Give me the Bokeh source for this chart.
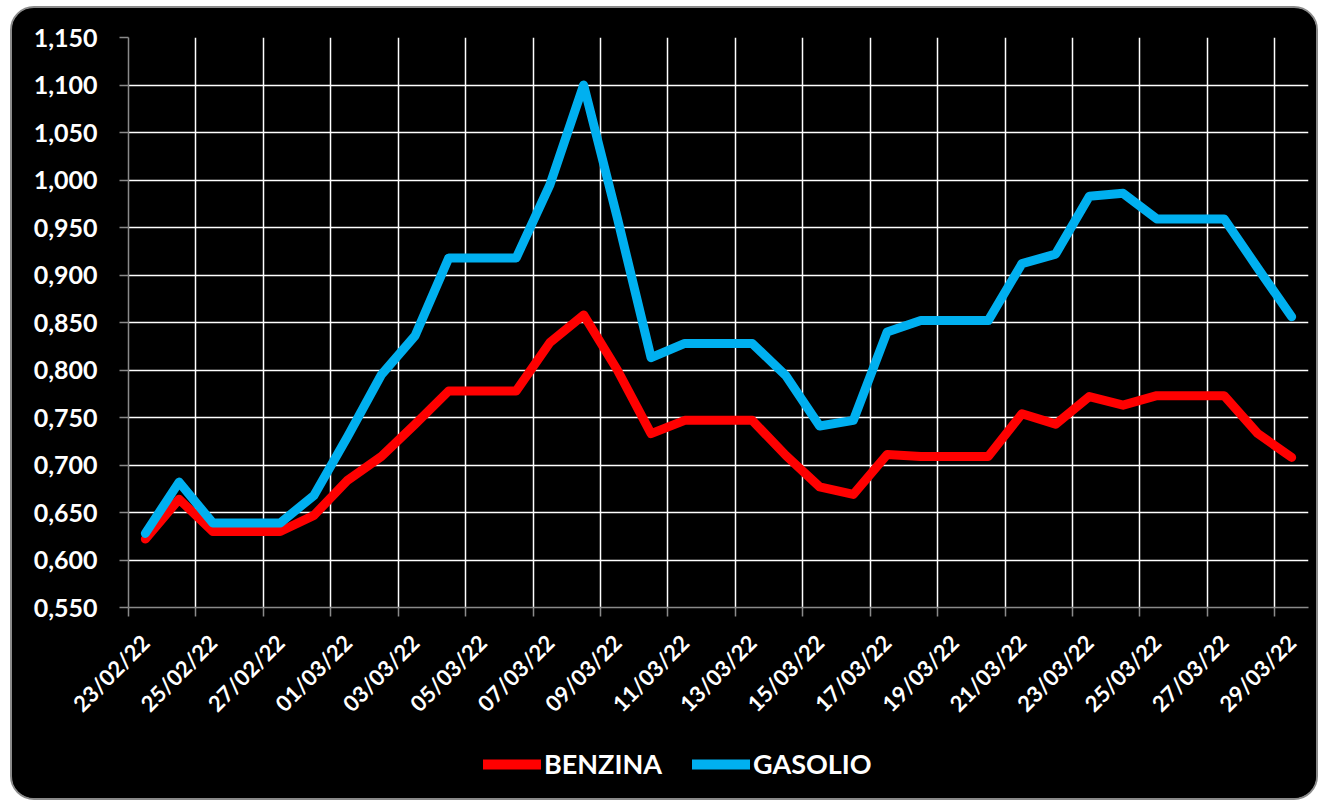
import math
from bokeh.plotting import figure
from bokeh.layouts import column
from bokeh.models import Range1d, FixedTicker, Legend, LegendItem
from bokeh.embed import file_html
from bokeh.resources import INLINE

dates = ["23/02/22", "24/02/22", "25/02/22", "26/02/22", "27/02/22", "28/02/22",
         "01/03/22", "02/03/22", "03/03/22", "04/03/22", "05/03/22", "06/03/22",
         "07/03/22", "08/03/22", "09/03/22", "10/03/22", "11/03/22", "12/03/22",
         "13/03/22", "14/03/22", "15/03/22", "16/03/22", "17/03/22", "18/03/22",
         "19/03/22", "20/03/22", "21/03/22", "22/03/22", "23/03/22", "24/03/22",
         "25/03/22", "26/03/22", "27/03/22", "28/03/22", "29/03/22"]

benzina = [0.622, 0.664, 0.630, 0.630, 0.630, 0.647, 0.684, 0.709, 0.743, 0.778,
           0.778, 0.778, 0.829, 0.858, 0.800, 0.733, 0.747, 0.747, 0.747, 0.710,
           0.677, 0.669, 0.711, 0.709, 0.709, 0.709, 0.754, 0.743, 0.772, 0.763,
           0.773, 0.773, 0.773, 0.733, 0.708]

gasolio = [0.628, 0.682, 0.639, 0.639, 0.639, 0.668, 0.730, 0.795, 0.836, 0.918,
           0.918, 0.918, 0.995, 1.100, 0.960, 0.813, 0.828, 0.828, 0.828, 0.794,
           0.741, 0.747, 0.840, 0.852, 0.852, 0.852, 0.912, 0.922, 0.983, 0.986,
           0.959, 0.959, 0.959, 0.907, 0.856]

y_ticks = [0.55, 0.60, 0.65, 0.70, 0.75, 0.80, 0.85, 0.90, 0.95, 1.00, 1.05, 1.10, 1.15]
y_labels = ["0,550", "0,600", "0,650", "0,700", "0,750", "0,800", "0,850",
            "0,900", "0,950", "1,000", "1,050", "1,100", "1,150"]

series_names = ["BENZINA", "GASOLIO"]
series_colors = ["#FF0000", "#00B0F0"]

n = len(dates)
xs = [i + 0.5 for i in range(n)]
label_pos = [i + 0.5 for i in range(0, n, 2)]
boundaries = [i for i in range(0, n, 2)]

FONT = "Lato"

p = figure(output_backend="svg", toolbar_location=None,
           x_range=Range1d(0, n), y_range=Range1d(0.55, 1.15),
           frame_width=1180, frame_height=570,
           min_border_left=116, min_border_right=8, min_border_top=29,
           min_border_bottom=125)

p.background_fill_color = "black"
p.border_fill_color = "black"
p.outline_line_color = None

# grids
p.xgrid.ticker = FixedTicker(ticks=boundaries)
p.ygrid.ticker = FixedTicker(ticks=y_ticks)
for g in (p.xgrid, p.ygrid):
    g.grid_line_color = "white"
    g.grid_line_width = 1.5

# x axis
xa = p.xaxis[0]
xa.ticker = FixedTicker(ticks=label_pos, minor_ticks=boundaries)
xa.major_label_overrides = {label_pos[k]: dates[2 * k] for k in range(len(label_pos))}
xa.major_label_orientation = math.pi / 4
xa.major_tick_out = 0
xa.major_tick_in = 0
xa.minor_tick_in = 0
xa.minor_tick_out = 9
xa.minor_tick_line_color = "#8a8a8a"
xa.minor_tick_line_width = 1.5
xa.axis_line_color = "#8a8a8a"
xa.axis_line_width = 1.5
xa.major_label_standoff = 22
xa.major_label_text_color = "white"
xa.major_label_text_font = FONT
xa.major_label_text_font_style = "bold"
xa.major_label_text_font_size = "22px"

# y axis
ya = p.yaxis[0]
ya.ticker = FixedTicker(ticks=y_ticks)
ya.major_label_overrides = {y_ticks[k]: y_labels[k] for k in range(len(y_ticks))}
ya.major_tick_out = 9
ya.major_tick_in = 0
ya.minor_tick_line_color = None
ya.major_tick_line_color = "#8a8a8a"
ya.major_tick_line_width = 1.5
ya.axis_line_color = "#8a8a8a"
ya.axis_line_width = 1.5
ya.major_label_standoff = 22
ya.major_label_text_color = "white"
ya.major_label_text_font = FONT
ya.major_label_text_font_style = "bold"
ya.major_label_text_font_size = "25px"

p.line(xs, benzina, line_color=series_colors[0], line_width=9,
       line_join="round", line_cap="round")
p.line(xs, gasolio, line_color=series_colors[1], line_width=9,
       line_join="round", line_cap="round")

# legend strip below the chart (its lines lie outside its own visible range)
q = figure(width=1304, height=66, output_backend="svg", toolbar_location=None,
           x_range=Range1d(0, n), y_range=Range1d(5, 6),
           x_axis_location=None, y_axis_location=None,
           min_border=0, min_border_left=0, min_border_right=0,
           min_border_top=0, min_border_bottom=0)
q.background_fill_color = "black"
q.border_fill_color = "black"
q.outline_line_color = None
q.xgrid.visible = False
q.ygrid.visible = False
lr1 = q.line(xs, benzina, line_color=series_colors[0], line_width=10, line_cap="round")
lr2 = q.line(xs, gasolio, line_color=series_colors[1], line_width=10, line_cap="round")

legend = Legend(items=[LegendItem(label=series_names[0], renderers=[lr1]),
                       LegendItem(label=series_names[1], renderers=[lr2])],
                orientation="horizontal", location=(355, 18),
                label_text_color="white", label_text_font=FONT,
                label_text_font_style="bold", label_text_font_size="27px",
                glyph_width=58, glyph_height=24, spacing=30, label_standoff=3,
                padding=0, margin=0, background_fill_alpha=0,
                border_line_alpha=0)
q.add_layout(legend, "center")

layout = column(p, q, spacing=0)
layout.styles = {"border-radius": "24px", "overflow": "hidden",
                 "border": "2px solid #8a8a8a", "margin-left": "10px",
                 "margin-top": "6px", "background-color": "black"}

open("out.html", "w").write(file_html(layout, INLINE))
